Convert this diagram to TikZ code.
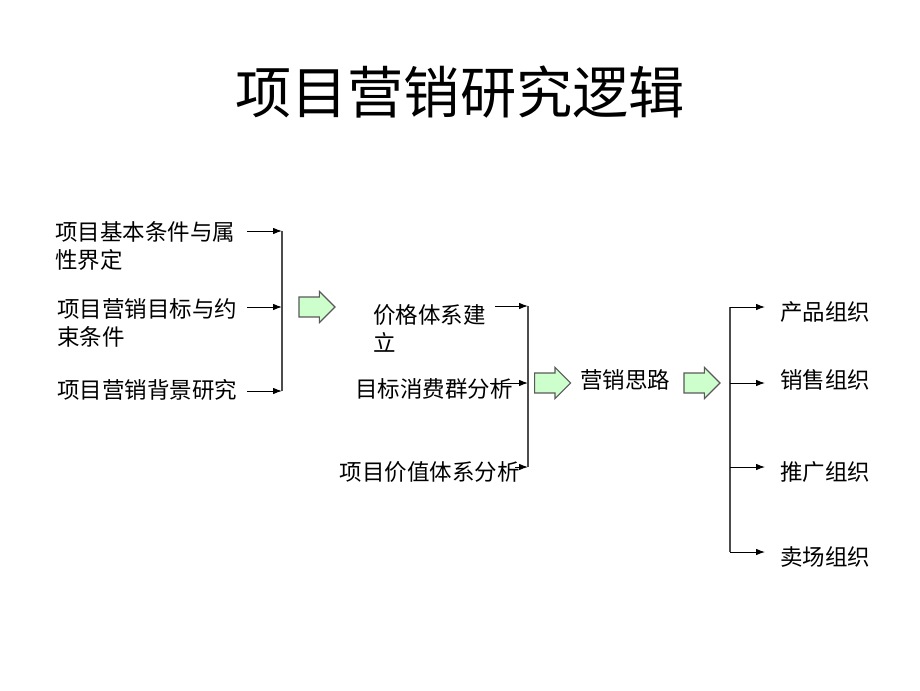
\documentclass[tikz,border=0pt]{standalone}
\usepackage{fontspec}
\setmainfont{Noto Sans CJK SC}
\usetikzlibrary{arrows.meta,shapes.arrows}
\definecolor{paleGreen}{HTML}{CCFFCC}
\begin{document}
\begin{tikzpicture}[
    item/.style ={inner sep=0pt, align=left, font=\fontsize{16}{20}\selectfont},
    branch/.style ={line width=0.7pt, -{Latex[length=2.2mm,width=1.6mm]}},
    bar/.style ={line width=0.8pt, draw=black!70},
    bigarrow/.style ={shape=single arrow, draw=black!65, line width=0.8pt, fill=paleGreen,
      minimum height=0.9cm, inner xsep=0.05cm, inner ysep=0.235cm,
      single arrow head extend=0.14cm}]
   \useasboundingbox (0,0) rectangle (23,-17.25);
   \node (title) at (11.5,-2.3) {\fontsize{40}{48}\selectfont 项目营销研究逻辑};
   % left column
   \node[item, anchor=west] (a1) at (1.375,-6.16) {项目基本条件与属\\性界定};
   \node[item, anchor=west] (a2) at (1.425,-8.08) {项目营销目标与约\\束条件};
   \node[item, anchor=west] (a3) at (1.425,-9.75) {项目营销背景研究};
   \coordinate (t1) at (6.175,-5.775);
   \coordinate (t2) at (6.175,-7.675);
   \coordinate (t3) at (6.175,-9.775);
   \coordinate (h1) at (7.05,-5.775);
   \coordinate (h2) at (7.05,-7.675);
   \coordinate (h3) at (7.05,-9.775);
   \draw[branch] (t1) -- (h1);
   \draw[branch] (t2) -- (h2);
   \draw[branch] (t3) -- (h3);
   \draw[bar] (h1) -- (h3);
   \node[bigarrow] (g1) at (7.8,-7.675) {};
   % middle column
   \node[item, anchor=west] (b1) at (9.325,-8.2) {价格体系建\\立};
   \node[item, anchor=east] (b2) at (12.825,-9.725) {目标消费群分析};
   \node[item, anchor=east] (b3) at (13.0,-11.8) {项目价值体系分析};
   \coordinate (u1) at (12.375,-7.65);
   \coordinate (u2) at (12.25,-9.575);
   \coordinate (u3) at (12.875,-11.675);
   \coordinate (k1) at (13.2,-7.65);
   \coordinate (k2) at (13.2,-9.575);
   \coordinate (k3) at (13.2,-11.675);
   \draw[branch] (u1) -- (k1);
   \draw[branch] (u2) -- (k2);
   \draw[branch] (u3) -- (k3);
   \draw[bar] (k1) -- (k3);
   \node[bigarrow] (g2) at (13.69,-9.575) {};
   \node[item, anchor=west] (idea) at (14.5,-9.5) {营销思路};
   \node[bigarrow] (g3) at (17.425,-9.575) {};
   % right column
   \coordinate (r1) at (18.25,-7.675);
   \coordinate (r2) at (18.25,-9.575);
   \coordinate (r3) at (18.25,-11.675);
   \coordinate (r4) at (18.25,-13.8);
   \coordinate (s1) at (19.125,-7.675);
   \coordinate (s2) at (19.125,-9.575);
   \coordinate (s3) at (19.125,-11.675);
   \coordinate (s4) at (19.125,-13.8);
   \node[item, anchor=west] (c1) at (19.5,-7.8) {产品组织};
   \node[item, anchor=west] (c2) at (19.5,-9.5) {销售组织};
   \node[item, anchor=west] (c3) at (19.5,-11.8) {推广组织};
   \node[item, anchor=west] (c4) at (19.5,-13.925) {卖场组织};
   \draw[bar] (r1) -- (r4);
   \draw[branch] (r1) -- (s1);
   \draw[branch] (r2) -- (s2);
   \draw[branch] (r3) -- (s3);
   \draw[branch] (r4) -- (s4);
 \end{tikzpicture}
\end{document}
